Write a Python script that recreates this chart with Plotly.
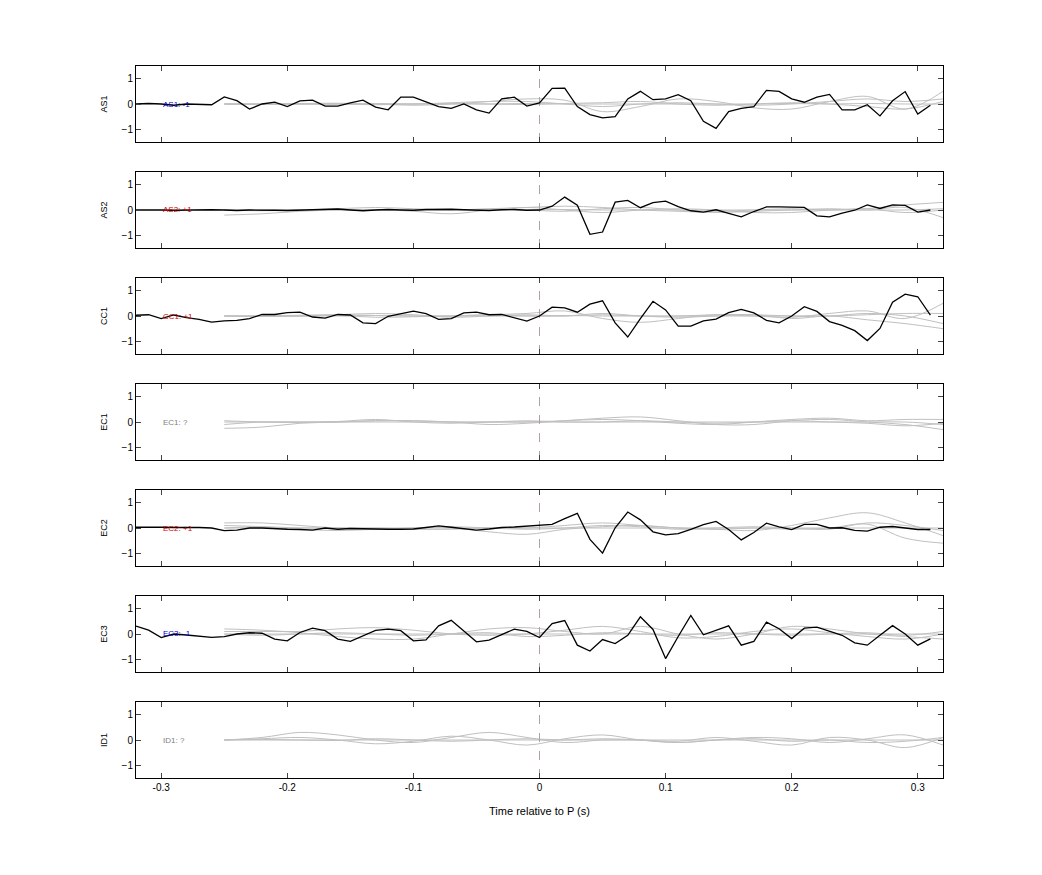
import numpy as np
import plotly.graph_objects as go

# station names and polarity labels
stations = ['AS1', 'AS2', 'CC1', 'EC1', 'EC2', 'EC3', 'ID1']
polarity = ['-1', '+1', '+1', '?', '+1', '-1', '?']
pol_color = {'-1': '#0000cc', '+1': '#cc0000', '?': '#808080'}

# observed traces, sampled every 0.01 s from -0.32 to 0.31
t_obs = [round(-0.32 + 0.01 * i, 2) for i in range(64)]

as1 = [0.0, 0.02, 0.0, -0.05, 0.0, -0.02, -0.03,
       0.28, 0.13, -0.2, 0.0, 0.07, -0.1, 0.12, 0.15, -0.08, -0.08, 0.04, 0.15,
       -0.12, -0.23, 0.27, 0.27, 0.08, -0.1, -0.17, 0.0, -0.23, -0.36, 0.2, 0.27,
       -0.08, 0.04,
       0.62, 0.63, -0.1, -0.42, -0.55, -0.5, 0.2, 0.5, 0.17, 0.2, 0.37, 0.13,
       -0.68, -0.96, -0.3, -0.17, -0.1, 0.54, 0.5, 0.2, 0.07, 0.27, 0.38, -0.23,
       -0.23, -0.03, -0.47, 0.13, 0.49, -0.4, -0.05]
as2 = [0.0, 0.01, 0.0, -0.01, 0.0, 0.02, 0.01,
       0.0, -0.02, 0.0, 0.01, -0.01, -0.02, -0.01, 0.0, 0.01, 0.04, 0.0, -0.03,
       0.0, 0.02, 0.0, -0.01, 0.02, 0.03, 0.03, 0.01, 0.0, -0.02, 0.01, 0.02,
       -0.01, 0.0,
       0.15, 0.51, 0.19, -0.96, -0.87, 0.31, 0.38, 0.09, 0.29, 0.35, 0.13, -0.03,
       -0.08, 0.01, -0.13, -0.27, -0.06, 0.12, 0.12, 0.1, 0.1, -0.23, -0.27,
       -0.12, -0.01, 0.2, 0.06, 0.2, 0.18, -0.08, 0.0]
cc1 = [0.03, 0.05, -0.1, 0.04, -0.06, -0.13,
       -0.24, -0.19, -0.17, -0.1, 0.06, 0.06, 0.13, 0.15, -0.04, -0.08, 0.06,
       0.04, -0.27, -0.3, -0.01, 0.09, 0.19, 0.09, -0.13, -0.1, 0.12, 0.15, 0.05,
       0.06, -0.06, -0.2, 0.0,
       0.35, 0.32, 0.15, 0.47, 0.6, -0.27, -0.83, -0.1, 0.58, 0.24, -0.4, -0.4,
       -0.19, -0.12, 0.13, 0.26, 0.12, -0.17, -0.27, 0.0, 0.37, 0.18, -0.22,
       -0.37, -0.58, -0.97, -0.49, 0.54, 0.86, 0.76, 0.03]
ec2 = [0.03, 0.04, 0.03, 0.02, 0.03, 0.02, 0.0,
       -0.1, -0.08, 0.0, 0.0, -0.03, -0.05, -0.06, -0.08, 0.0, -0.05, -0.02,
       -0.04, -0.04, -0.05, -0.05, -0.04, 0.02, 0.08, 0.03, -0.03, -0.08, -0.04,
       0.02, 0.04, 0.07, 0.1,
       0.14, 0.37, 0.58, -0.45, -0.99, 0.01, 0.63, 0.32, -0.15, -0.27, -0.22,
       -0.05, 0.13, 0.26, -0.06, -0.47, -0.18, 0.19, 0.04, -0.06, 0.14, 0.14,
       0.0, 0.01, -0.09, -0.12, 0.03, 0.06, 0.0, -0.06, -0.06]
ec3 = [0.31, 0.15, -0.14, 0.0, -0.04, -0.08,
       -0.13, -0.1, 0.0, 0.05, 0.03, -0.2, -0.27, 0.06, 0.23, 0.13, -0.2, -0.29,
       -0.06, 0.14, 0.19, 0.13, -0.27, -0.23, 0.32, 0.54, 0.12, -0.31, -0.24,
       -0.04, 0.19, 0.1, -0.14,
       0.41, 0.53, -0.44, -0.67, -0.22, -0.38, -0.05, 0.68, 0.18, -0.97, -0.1,
       0.73, -0.03, 0.15, 0.32, -0.44, -0.29, 0.47, 0.21, -0.18, 0.23, 0.27,
       0.1, -0.05, -0.35, -0.44, -0.05, 0.33, 0.0, -0.44, -0.19]
observed = {'AS1': as1, 'AS2': as2, 'CC1': cc1, 'EC2': ec2, 'EC3': ec3}

# synthetic (gray) traces, coarse samples from -0.25 to 0.32 s
t_syn = [round(-0.25 + 0.03 * i, 2) for i in range(20)]
synthetic = {
    'AS1': [[0.0, 0.0, 0.02, 0.03, 0.0, -0.05, 0.0, 0.1, 0.2, 0.15, -0.3, -0.1, 0.2, 0.1, -0.15, -0.2, 0.1, 0.3, -0.2, 0.5],
            [0.0, 0.0, 0.0, 0.0, 0.02, 0.0, 0.05, 0.1, 0.1, 0.0, -0.1, 0.0, 0.05, 0.0, -0.05, 0.0, 0.1, 0.2, 0.1, 0.2],
            [0.0, 0.0, 0.0, 0.0, 0.0, 0.0, 0.0, 0.0, 0.02, 0.0, 0.0, 0.0, 0.0, 0.0, 0.0, 0.02, 0.0, 0.02, 0.0, 0.0],
            [0.0, -0.02, 0.0, 0.0, -0.03, 0.0, 0.02, 0.0, -0.02, 0.02, 0.05, 0.1, 0.0, -0.05, 0.0, 0.05, 0.0, -0.1, -0.2, 0.1]],
    'AS2': [[-0.2, -0.15, -0.05, 0.0, 0.02, -0.05, -0.15, 0.0, 0.1, 0.0, -0.1, 0.0, 0.05, 0.0, -0.1, -0.1, 0.0, 0.05, 0.2, 0.3],
            [0.0, 0.0, 0.0, 0.05, 0.1, 0.05, 0.0, 0.05, 0.1, 0.15, 0.1, 0.0, -0.05, -0.1, -0.05, 0.0, 0.05, 0.0, 0.1, -0.3],
            [0.0, 0.0, 0.0, 0.0, 0.0, 0.0, 0.0, 0.0, 0.0, 0.02, 0.0, 0.0, 0.0, 0.0, 0.0, 0.0, 0.0, 0.0, 0.0, 0.05],
            [0.0, -0.03, 0.0, 0.02, 0.0, -0.02, 0.0, 0.03, 0.0, -0.05, 0.05, 0.1, 0.0, -0.05, 0.0, 0.05, 0.0, 0.05, -0.1, 0.0]],
    'CC1': [[0.0, 0.0, 0.03, 0.05, 0.02, 0.0, 0.0, 0.05, 0.1, 0.2, -0.1, -0.25, -0.1, 0.05, 0.0, -0.05, 0.1, 0.2, -0.1, 0.5],
            [0.0, 0.0, 0.0, 0.05, 0.1, 0.05, -0.05, 0.0, 0.05, 0.0, 0.05, 0.0, 0.0, 0.05, 0.05, 0.0, 0.0, 0.1, 0.0, -0.3],
            [0.0, 0.0, 0.0, 0.0, 0.02, 0.0, 0.0, 0.0, 0.0, 0.02, 0.0, 0.0, 0.0, 0.0, 0.0, 0.0, 0.0, 0.05, 0.1, 0.1],
            [0.0, -0.02, 0.0, 0.02, -0.05, -0.03, 0.0, 0.05, 0.0, 0.0, 0.1, 0.0, -0.05, 0.0, 0.05, -0.1, 0.0, -0.15, -0.3, -0.5]],
    'EC1': [[-0.25, -0.2, -0.05, 0.0, 0.05, 0.05, 0.0, -0.1, -0.05, 0.05, 0.15, 0.2, 0.05, -0.1, -0.1, 0.05, 0.1, 0.0, -0.1, -0.3],
            [-0.1, 0.0, 0.0, 0.02, 0.1, 0.0, -0.05, 0.0, 0.0, 0.05, 0.1, 0.05, -0.05, -0.1, 0.0, 0.1, 0.15, 0.05, 0.1, 0.1],
            [0.0, 0.0, 0.0, 0.0, 0.0, 0.0, 0.0, 0.0, 0.0, 0.0, 0.0, 0.0, 0.0, 0.0, 0.0, 0.0, 0.0, 0.0, 0.0, -0.1],
            [0.05, 0.0, -0.02, 0.0, 0.05, 0.05, 0.0, 0.0, 0.05, 0.0, 0.0, 0.05, 0.0, -0.05, 0.0, 0.05, 0.0, -0.05, -0.15, -0.05]],
    'EC2': [[0.2, 0.2, 0.1, 0.0, 0.0, -0.05, -0.05, 0.0, 0.0, 0.1, 0.2, 0.1, 0.0, -0.05, -0.1, 0.1, 0.4, 0.6, 0.2, -0.3],
            [0.1, 0.05, -0.05, -0.1, -0.05, 0.0, 0.0, -0.15, -0.25, -0.05, 0.05, 0.1, 0.0, -0.05, 0.0, -0.05, 0.0, 0.15, -0.4, -0.6],
            [0.0, 0.0, 0.0, 0.0, 0.0, 0.0, 0.0, 0.0, 0.0, 0.0, 0.0, 0.0, 0.0, 0.0, 0.0, 0.0, 0.0, 0.0, 0.0, 0.0],
            [0.0, 0.05, 0.0, 0.0, -0.05, 0.0, 0.05, 0.0, -0.05, 0.0, 0.1, 0.05, -0.05, 0.0, 0.05, 0.0, -0.05, 0.2, 0.1, -0.1]],
    'EC3': [[0.2, 0.15, 0.05, -0.1, -0.2, -0.2, 0.0, 0.2, 0.25, 0.1, 0.0, 0.3, 0.0, -0.2, 0.0, 0.3, 0.2, 0.0, -0.1, -0.2],
            [0.1, 0.1, 0.1, 0.2, 0.25, 0.15, 0.0, -0.05, 0.0, 0.15, 0.3, 0.1, -0.15, -0.1, 0.1, 0.2, 0.05, -0.1, -0.2, 0.0],
            [0.0, 0.0, 0.0, 0.0, 0.0, 0.0, 0.0, 0.0, 0.0, 0.0, 0.0, 0.0, 0.0, 0.0, 0.0, 0.0, 0.0, 0.0, 0.0, 0.0],
            [0.0, -0.05, 0.0, 0.05, 0.0, -0.05, 0.0, 0.05, -0.1, -0.05, 0.05, 0.0, -0.05, 0.05, 0.0, -0.05, 0.0, 0.05, -0.05, 0.1]],
    'ID1': [[0.0, 0.1, 0.3, 0.2, 0.0, -0.1, 0.1, 0.3, 0.1, -0.1, 0.0, 0.0, -0.05, 0.1, -0.05, -0.2, 0.1, 0.0, -0.3, 0.1],
            [0.0, 0.05, 0.1, 0.0, -0.15, -0.05, 0.15, 0.0, -0.2, 0.05, 0.2, 0.0, -0.1, 0.0, 0.1, 0.05, -0.1, 0.05, 0.2, -0.2],
            [0.0, 0.0, 0.0, 0.0, 0.0, 0.0, 0.0, 0.0, 0.0, 0.0, 0.0, 0.0, 0.0, 0.0, 0.0, 0.0, 0.0, 0.0, 0.0, 0.0],
            [0.0, 0.02, 0.0, -0.02, 0.05, 0.0, -0.05, 0.0, 0.05, 0.0, 0.05, 0.0, -0.1, 0.0, 0.05, -0.05, 0.0, -0.1, -0.05, 0.1]],
}

W, H = 1042, 875
L, R, T = 128, 935, 58
pitch, ph = 106, 76

fig = go.Figure()
for i, st in enumerate(stations):
    n = i + 1
    xa = 'x' if n == 1 else 'x%d' % n
    ya = 'y' if n == 1 else 'y%d' % n
    top = T + i * pitch
    bot = top + ph
    for s in synthetic[st]:
        fig.add_trace(go.Scatter(x=t_syn, y=s, mode='lines', xaxis=xa, yaxis=ya,
                                 line=dict(color='#c0c0c0', width=1, shape='spline'),
                                 showlegend=False, hoverinfo='skip'))
    fig.add_trace(go.Scatter(x=[0, 0], y=[-1.5, 1.5], mode='lines', xaxis=xa, yaxis=ya,
                             line=dict(color='#b0a0a0', width=1, dash='dash'),
                             showlegend=False, hoverinfo='skip'))
    if st in observed:
        fig.add_trace(go.Scatter(x=t_obs, y=observed[st], mode='lines', xaxis=xa, yaxis=ya,
                                 line=dict(color='black', width=1.3), showlegend=False))
    fig.add_annotation(x=-0.3, y=0, xref=xa, yref=ya, text='%s: %s' % (st, polarity[i]),
                       showarrow=False, xanchor='left',
                       font=dict(size=8, color=pol_color[polarity[i]]))
    axis = dict(showline=True, linecolor='black', linewidth=1, mirror='ticks',
                ticks='inside', ticklen=5, showgrid=False, zeroline=False,
                tickfont=dict(size=10, color='black'))
    fig.layout[('xaxis' if n == 1 else 'xaxis%d' % n)] = dict(
        axis, range=[-0.32, 0.32], tickvals=[-0.3, -0.2, -0.1, 0, 0.1, 0.2, 0.3],
        ticktext=['-0.3', '-0.2', '-0.1', '0', '0.1', '0.2', '0.3'],
        showticklabels=(n == len(stations)), anchor=ya,
        domain=[L / W, R / W],
        title=dict(text='Time relative to P (s)', font=dict(size=11)) if n == len(stations) else None)
    fig.layout[('yaxis' if n == 1 else 'yaxis%d' % n)] = dict(
        axis, range=[-1.5, 1.5], tickvals=[-1, 0, 1], anchor=xa,
        domain=[(H - bot) / H, (H - top) / H],
        title=dict(text=st, font=dict(size=9), standoff=12))

fig.update_layout(width=W, height=H, plot_bgcolor='white', paper_bgcolor='white',
                  margin=dict(l=0, r=0, t=0, b=0),
                  font=dict(family='Liberation Sans, Arial, sans-serif', color='black'))
fig.write_html('out.html')
